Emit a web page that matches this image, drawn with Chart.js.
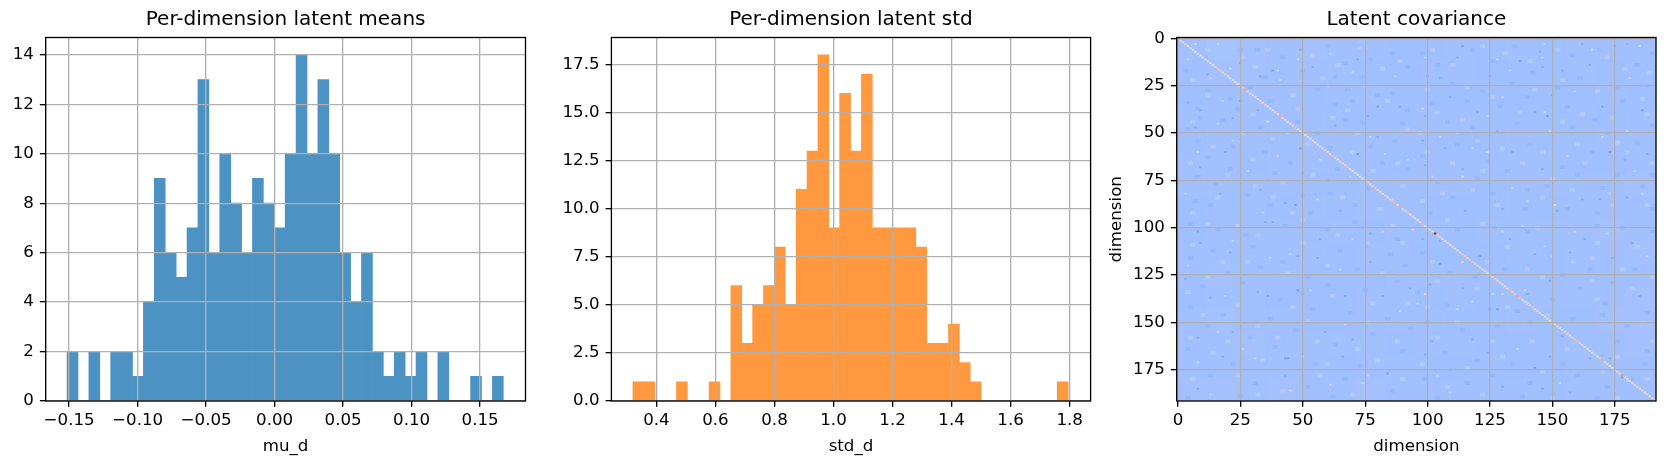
<!DOCTYPE html>
<html>
<head>
<meta charset="utf-8">
<title>Latent diagnostics</title>
<script src="https://cdn.jsdelivr.net/npm/chart.js@4"></script>
<style>
  html, body { margin: 0; padding: 0; background: #fff; width: 1667px; height: 468px; overflow: hidden; }
  canvas { position: absolute; top: 0; }
</style>
</head>
<body>
<canvas id="means" width="550" height="468" style="left:0"></canvas>
<canvas id="stds" width="570" height="468" style="left:550px"></canvas>
<canvas id="cov" width="567" height="468" style="left:1100px"></canvas>
<script>
// Histogram of per-dimension latent means
const meansCounts = [2,0,2,0,2,2,1,4,9,6,5,7,13,6,10,8,6,9,8,7,10,14,10,13,10,6,4,6,2,1,2,1,2,0,2,0,0,1,0,1];
const meansBinStart = -0.1515;
const meansBinWidth = 0.00796;
const meansXTicks = [-0.15,-0.10,-0.05,0,0.05,0.10,0.15];
const meansYTicks = [0,2,4,6,8,10,12,14];

// Histogram of per-dimension latent standard deviations
const stdCounts = [1,1,0,0,1,0,0,1,0,6,3,5,6,8,5,11,13,18,9,16,13,17,9,9,9,9,8,3,3,4,2,1,0,0,0,0,0,0,0,1];
const stdBinStart = 0.3205;
const stdBinWidth = 0.03686;
const stdXTicks = [0.4,0.6,0.8,1.0,1.2,1.4,1.6,1.8];
const stdYTicks = [0,2.5,5,7.5,10,12.5,15,17.5];

// Covariance heatmap: colour positions along the colormap (0..1)
const covTicks = [0,25,50,75,100,125,150,175];
const covDiagonal = [
  .50,.48,.52,.58,.50,.48,.52,.50,.48,.50,
  .50,.48,.52,.50,.52,.54,.63,.60,.50,.52,
  .52,.50,.54,.52,.57,.54,.57,.70,.54,.52,
  .52,.54,.52,.50,.52,.54,.52,.54,.52,.54,
  .57,.70,.60,.52,.50,.52,.60,.65,.54,.52,
  .48,.50,.48,.50,.52,.50,.52,.54,.52,.57,
  .54,.57,.63,.60,.52,.54,.52,.54,.63,.54,
  .52,.50,.52,.50,.48,.50,.52,.54,.57,.63,
  .60,.52,.50,.57,.52,.54,.65,.68,.60,.70,
  .52,.54,.63,.52,.54,.50,.52,.57,.68,.52,
  .50,.48,.52,.97,.54,.57,.52,.54,.52,.54,
  .57,.54,.52,.54,.57,.60,.57,.63,.60,.57,
  .60,.54,.52,.54,.52,.54,.57,.60,.52,.54,
  .52,.54,.60,.68,.57,.65,.73,.65,.54,.52,
  .54,.57,.63,.54,.60,.52,.50,.54,.57,.52,
  .60,.52,.54,.50,.52,.54,.57,.52,.57,.63,
  .65,.54,.52,.50,.52,.54,.52,.54,.52,.57,
  .70,.57,.52,.50,.52,.48,.50,.57,.77,.57,
  .54,.52,.50,.52,.54,.57,.54,.52,.57,.54,.52,.54
];
// Broad background tone per 12x12 block of dimensions
const covBlockSpan = 12;
const covBlockTones = [
  [.320,.330,.325,.320,.325,.320,.320,.315,.315,.320,.315,.320,.315,.320,.320,.320],
  [.320,.325,.325,.320,.320,.320,.315,.315,.320,.320,.315,.315,.315,.320,.315,.320],
  [.315,.320,.320,.320,.315,.320,.320,.315,.315,.315,.315,.315,.315,.315,.320,.315],
  [.320,.320,.320,.320,.320,.315,.315,.315,.320,.320,.320,.315,.315,.320,.315,.320],
  [.315,.320,.320,.315,.320,.320,.320,.320,.315,.315,.315,.320,.315,.315,.320,.320],
  [.320,.320,.315,.320,.320,.320,.320,.315,.320,.320,.320,.320,.320,.315,.315,.320],
  [.320,.320,.320,.320,.315,.315,.320,.320,.320,.320,.315,.320,.320,.320,.320,.325],
  [.315,.320,.320,.315,.320,.315,.320,.320,.315,.315,.315,.320,.315,.320,.320,.320],
  [.315,.320,.320,.320,.315,.320,.315,.320,.320,.315,.320,.320,.320,.320,.325,.320],
  [.320,.320,.320,.320,.320,.315,.320,.320,.315,.315,.315,.320,.315,.320,.320,.325],
  [.320,.325,.320,.320,.315,.315,.315,.320,.320,.320,.320,.315,.315,.320,.320,.320],
  [.315,.320,.320,.315,.315,.315,.320,.320,.315,.320,.315,.320,.320,.320,.320,.325],
  [.320,.325,.320,.320,.315,.315,.320,.320,.320,.315,.315,.320,.315,.315,.325,.325],
  [.320,.320,.325,.320,.320,.320,.320,.315,.320,.320,.315,.315,.315,.320,.320,.325],
  [.320,.320,.320,.320,.320,.315,.320,.320,.315,.315,.320,.315,.315,.320,.320,.320],
  [.325,.325,.320,.325,.320,.320,.325,.320,.320,.320,.320,.320,.315,.320,.320,.320]
];
// Individually visible off-diagonal cells as [column, row]
const covDeepCells = [
  [38,17],[33,20],[25,33],[49,58],[47,88],[80,36],[72,61],[170,36],[186,38],[148,41],[173,60],[114,4],[137,12],
  [44,169],[43,169],[48,133],[36,136],[84,177],[8,102],[149,128],[121,115],[143,174],[105,119],[128,143],[178,179]
];
const covShadeCells = [
  [9,38],[32,38],[22,42],[7,47],[9,68],[50,71],[33,80],[17,82],[43,87],[25,13],[12,19],[49,6],[54,15],[72,11],
  [76,41],[89,36],[80,52],[19,60],[36,75],[65,91],[4,34],[63,46],[60,75],
  [109,31],[99,41],[100,20],[112,10],[120,39],[150,30],[143,39],[165,14],[128,49],[146,69],[114,69],[169,85],
  [162,85],[179,64],[99,67],[107,58],[134,60],[98,54],[152,91],[115,91],[130,90],[180,84],[188,61],[188,25],
  [162,3],[175,4],[180,3],[145,7],[146,15],[154,17],[125,20],[105,21],
  [35,97],[50,135],[67,136],[22,155],[8,158],[18,168],[56,116],[48,115],[77,118],[9,108],[21,113],[59,155],
  [70,159],[3,127],[13,137],[82,136],[32,134],[8,185],[43,178],[66,168],[77,103],[38,97],[57,106],[93,132],
  [98,106],[105,107],[133,106],[157,113],[143,114],[163,106],[182,108],[174,116],[125,143],[140,135],[114,132],
  [101,130],[118,159],[102,160],[149,168],[165,169],[109,175],[154,157],[124,166],[130,184],[146,185],[182,180],
  [157,187],[173,169],[99,167],[174,129],[185,136]
];
const covPaleCells = [
  [16,3],[40,17],[48,11],[61,8],[70,18],[4,11],[13,21],[18,33],[41,22],[60,25],[74,25],[87,20],[16,45],[44,50],
  [22,54],[40,62],[8,60],[57,64],[83,61],[77,52],[56,85],[21,75],[3,82],[86,85],[69,73],[34,92],[28,70],[92,64],
  [130,31],[124,41],[147,39],[159,28],[181,21],[180,49],[149,49],[112,50],[98,37],[118,58],[102,73],[134,79],
  [186,82],[140,86],[166,6],[147,3],[146,10],[185,4],[170,52],[128,11],[133,17],[99,10],[156,62],[183,70],[124,60],
  [105,52],[173,82],
  [53,133],[82,102],[31,169],[8,171],[26,164],[16,155],[70,106],[89,144],[67,151],[37,116],[45,114],[22,107],
  [74,182],[61,183],[13,188],[76,178],[94,101],[50,168],[4,120],[19,136],[65,122],
  [130,102],[147,110],[150,115],[158,118],[126,135],[130,135],[118,139],[112,143],[139,133],[104,178],[153,182],
  [180,181],[138,99],[172,103],[188,115],[109,187],[96,140],[136,164],[159,102]
];
const covBrightCells = [
  [7,3],[21,16],[114,73],[151,88],[45,186],[114,118],[99,135],[36,44]
];
// Mottled patches spanning two rows and two columns
const covDarkPatches = [
  [21,32],[8,37],[24,37],[9,42],[18,43],[4,48],[37,33],[48,44],[33,47],[8,54],[22,57],[12,63],[35,60],[45,66],[39,71],
  [21,69],[8,73],[70,33],[80,30],[63,35],[67,43],[86,29],[74,45],[61,58],[77,57],[87,54],[64,69],[82,66],[92,69],[61,82],
  [76,79],[71,88],[50,83],[37,88],[13,88],[7,86],[32,6],[42,10],[50,17],[60,4],[67,13],[77,11],[86,8],[92,15],[3,17],
  [11,10],[25,6],[63,20],[74,20],[35,20],[56,27],[12,27],[29,26],[68,27],[92,38],[56,50],[90,45],[15,77],[28,83],[53,92],
  [98,8],[104,14],[118,6],[126,12],[135,4],[142,18],[158,9],[169,6],[184,14],[190,8],[110,24],[122,28],[134,24],[152,26],
  [161,21],[176,26],[102,34],[116,33],[129,36],[140,31],[156,36],[167,43],[178,33],[190,46],[108,44],[118,47],[136,45],
  [158,47],[172,50],[184,55],[98,62],[112,56],[124,65],[141,56],[154,68],[166,60],[176,72],[190,72],[104,76],[120,74],
  [132,70],[148,78],[160,72],[170,79],[186,78],[110,84],[126,82],[140,80],[156,90],[168,92],[190,90],[101,92],[139,90],
  [5,98],[16,101],[27,104],[43,99],[60,101],[71,97],[88,106],[14,112],[30,110],[42,118],[65,112],[85,114],[5,116],
  [20,124],[33,121],[52,126],[72,122],[91,120],[10,131],[26,129],[41,138],[60,130],[75,133],[88,128],[5,142],[18,146],
  [37,148],[54,143],[69,145],[84,148],[12,152],[29,158],[47,154],[63,162],[78,156],[93,153],[4,164],[22,172],[39,163],
  [55,172],[73,173],[90,165],[13,178],[31,182],[52,184],[67,180],[86,186],[4,190],[25,189],[62,189],
  [98,113],[112,101],[127,100],[140,102],[168,99],[178,100],[190,102],[109,124],[119,126],[131,122],[154,125],[165,122],
  [183,122],[96,134],[108,141],[136,144],[150,138],[161,132],[171,140],[188,145],[100,150],[114,154],[128,152],[141,150],
  [158,148],[170,146],[180,152],[107,166],[120,170],[134,172],[154,172],[176,160],[188,165],[99,180],[116,182],[126,178],
  [141,182],[160,178],[172,184],[187,172],[104,190],[138,189],[168,190]
];
const covLightPatches = [
  [12,6],[26,10],[36,6],[54,9],[73,5],[89,12],[6,22],[24,24],[46,30],[64,14],[82,16],[31,15],[58,21],[12,30],[30,40],
  [48,37],[68,38],[84,33],[6,44],[26,50],[38,53],[62,42],[72,50],[92,48],[14,57],[30,64],[52,56],[70,60],[88,66],[5,66],
  [20,72],[42,76],[54,72],[78,70],[16,84],[31,78],[46,92],[66,84],[81,90],[6,92],[38,84],[90,78],
  [102,6],[110,14],[122,4],[131,8],[141,12],[152,6],[172,10],[179,16],[189,18],[100,27],[116,26],[126,31],[143,27],
  [154,22],[168,28],[186,32],[104,39],[114,43],[137,39],[154,44],[162,40],[174,42],[188,40],[97,50],[120,54],[130,58],
  [146,60],[160,56],[176,55],[100,60],[110,66],[122,70],[138,66],[150,74],[163,66],[180,60],[190,66],[106,82],[118,80],
  [128,88],[146,84],[158,80],[174,88],[188,88],[98,86],
  [12,98],[24,99],[50,96],[64,104],[86,99],[6,109],[18,118],[32,104],[50,108],[76,108],[90,108],[12,126],[28,118],
  [44,124],[60,120],[82,124],[4,134],[24,141],[46,142],[62,136],[78,140],[92,140],[10,146],[32,152],[52,149],[76,150],
  [5,158],[20,160],[40,158],[56,160],[72,164],[88,160],[14,166],[34,170],[60,172],[80,170],[6,180],[24,178],[42,186],
  [57,178],[70,188],[90,180],[32,188],
  [108,96],[122,98],[132,110],[144,100],[168,108],[184,110],[102,118],[124,118],[140,122],[166,116],[178,122],[190,126],
  [104,128],[120,132],[146,126],[166,128],[182,132],[100,142],[112,150],[132,142],[148,146],[168,138],[186,150],[104,158],
  [126,160],[142,160],[156,164],[176,168],[190,160],[98,172],[116,174],[130,168],[146,176],[170,176],[188,180],[108,184],
  [122,188],[150,190],[176,190]
];
const covDeepTone = 0.2;
const covShadeTone = 0.24;
const covDarkPatchTone = 0.285;
const covLightPatchTone = 0.36;
const covPaleTone = 0.41;
const covBrightTone = 0.53;

// Matplotlib's coolwarm colormap, sampled every 0.1
const coolwarmStops = ['#3b4cc0','#5977e3','#7b9ff9','#9abbff','#c0d4f5','#dddcdc','#f2cbb7','#f7ac8e','#ee8468','#d65244','#b40426'];
function coolwarm(v) {
  const t = Math.max(0, Math.min(1, v)) * 10;
  const i = Math.min(9, Math.floor(t));
  const parse = h => [1, 3, 5].map(k => parseInt(h.slice(k, k + 2), 16));
  const a = parse(coolwarmStops[i]), b = parse(coolwarmStops[i + 1]);
  const m = a.map((c, k) => Math.round(c + (b[k] - c) * (t - i)));
  return `rgb(${m[0]},${m[1]},${m[2]})`;
}

const FONT = '"DejaVu Sans"';
const GRID = '#b0b0b0';
const TICK_SIZE = 16.67;
const TITLE_SIZE = 20;
const LINE = 1.33;

// Closed black frame around the plotting area
const framePlugin = {
  id: 'frame',
  afterDraw(chart) {
    const a = chart.chartArea, c = chart.ctx;
    c.save();
    c.strokeStyle = '#000';
    c.lineWidth = LINE;
    c.strokeRect(a.left, a.top, a.right - a.left, a.bottom - a.top);
    c.restore();
  }
};

const minusFix = s => s.replace('-', '\u2212');

function axis(title, ticks, fmt, extra, thick, titlePad, tickPad) {
  return Object.assign({
    type: 'linear',
    offset: false,
    grid: { offset: false, z: 1, color: GRID, lineWidth: LINE, tickColor: '#000', tickLength: 5.83, tickWidth: LINE },
    border: { display: false },
    afterBuildTicks: s => { s.ticks = ticks.map(v => ({ value: v })); },
    ticks: {
      autoSkip: false, maxRotation: 0, minRotation: 0, includeBounds: false,
      color: '#000', padding: tickPad, font: { family: FONT, size: TICK_SIZE },
      callback: v => minusFix(fmt(v))
    },
    title: {
      display: !!title, text: title, color: '#000',
      font: { family: FONT, size: TICK_SIZE },
      padding: { top: titlePad, bottom: titlePad }
    },
    afterFit: s => { if (s.isHorizontal()) s.height = thick; else s.width = thick; }
  }, extra);
}

function chartOptions(titleText, pad, x, y) {
  return {
    responsive: false,
    animation: false,
    layout: { padding: pad },
    plugins: {
      legend: { display: false },
      tooltip: { enabled: false },
      title: {
        display: true, text: titleText, color: '#000', fullSize: false,
        font: { family: FONT, size: TITLE_SIZE, weight: 'normal', lineHeight: 1.2 },
        padding: { top: 8, bottom: 5.5 }
      }
    },
    scales: { x, y }
  };
}

function histogram(id, counts, start, width, colour, titleText, xLabel, xTicks, yTicks, xFmt, yFmt, xMin, xMax, yMax, leftW, rightPad) {
  const points = counts.map((c, i) => ({ x: start + width * (i + 0.5), y: c }));
  new Chart(document.getElementById(id), {
    type: 'bar',
    data: { datasets: [{ data: points, backgroundColor: colour, barPercentage: 1, categoryPercentage: 1, borderWidth: 0 }] },
    options: chartOptions(titleText, { right: rightPad },
      axis(xLabel, xTicks, xFmt, { min: xMin, max: xMax }, 67, 11.3, 3.9),
      axis('', yTicks, yFmt, { min: 0, max: yMax }, leftW, 0, 6)),
    plugins: [framePlugin]
  });
}

histogram('means', meansCounts, meansBinStart, meansBinWidth, '#4c92c3',
  'Per-dimension latent means', 'mu_d', meansXTicks, meansYTicks,
  v => v.toFixed(2), v => String(v), -0.1671, 0.1831, 14.7, 45.7, 24.5);

histogram('stds', stdCounts, stdBinStart, stdBinWidth, '#ff983e',
  'Per-dimension latent std', 'std_d', stdXTicks, stdYTicks,
  v => v.toFixed(1), v => v.toFixed(1), 0.2475, 1.871, 18.9, 61.4, 29.4);

// Heatmap cells are floating bars spanning one row each
const cell = ([c, r]) => ({ x: c, y: [r - 0.5, r + 0.5] });
const patch = ([c, r]) => ({ x: c, y: [r - 1, r + 1] });
const unitWidth = 479.3 / 192;
const cellOpts = { grouped: false, barThickness: unitWidth, borderWidth: 0, inflateAmount: 0 };
const patchWidth = unitWidth * 2;
const blocks = [], blockColours = [];
covBlockTones.forEach((row, r) => row.forEach((tone, c) => {
  blocks.push({ x: covBlockSpan * c + (covBlockSpan - 1) / 2, y: [covBlockSpan * r - 0.5, covBlockSpan * (r + 1) - 0.5] });
  blockColours.push(coolwarm(tone));
}));
new Chart(document.getElementById('cov'), {
  type: 'bar',
  data: { datasets: [
    Object.assign({}, cellOpts, { order: 1, data: covDiagonal.map((v, i) => cell([i, i])), backgroundColor: covDiagonal.map(coolwarm) }),
    Object.assign({}, cellOpts, { order: 2, data: covBrightCells.map(cell), backgroundColor: coolwarm(covBrightTone) }),
    Object.assign({}, cellOpts, { order: 3, data: covPaleCells.map(cell), backgroundColor: coolwarm(covPaleTone) }),
    Object.assign({}, cellOpts, { order: 4, data: covDeepCells.map(cell), backgroundColor: coolwarm(covDeepTone) }),
    Object.assign({}, cellOpts, { order: 5, data: covShadeCells.map(cell), backgroundColor: coolwarm(covShadeTone) }),
    Object.assign({}, cellOpts, { order: 6, data: covLightPatches.map(patch), backgroundColor: coolwarm(covLightPatchTone), barThickness: patchWidth }),
    Object.assign({}, cellOpts, { order: 7, data: covDarkPatches.map(patch), backgroundColor: coolwarm(covDarkPatchTone), barThickness: patchWidth }),
    Object.assign({}, cellOpts, { order: 8, data: blocks, backgroundColor: blockColours, barThickness: unitWidth * covBlockSpan, inflateAmount: 0.4 })
  ] },
  options: chartOptions('Latent covariance', { right: 11 },
    axis('dimension', covTicks, v => String(v), { min: -0.5, max: 191.5 }, 67, 11.3, 3.9),
    axis('dimension', covTicks, v => String(v), { min: -0.5, max: 191.5, reverse: true }, 76.7, 6.7, 6)),
  plugins: [framePlugin]
});
</script>
</body>
</html>
